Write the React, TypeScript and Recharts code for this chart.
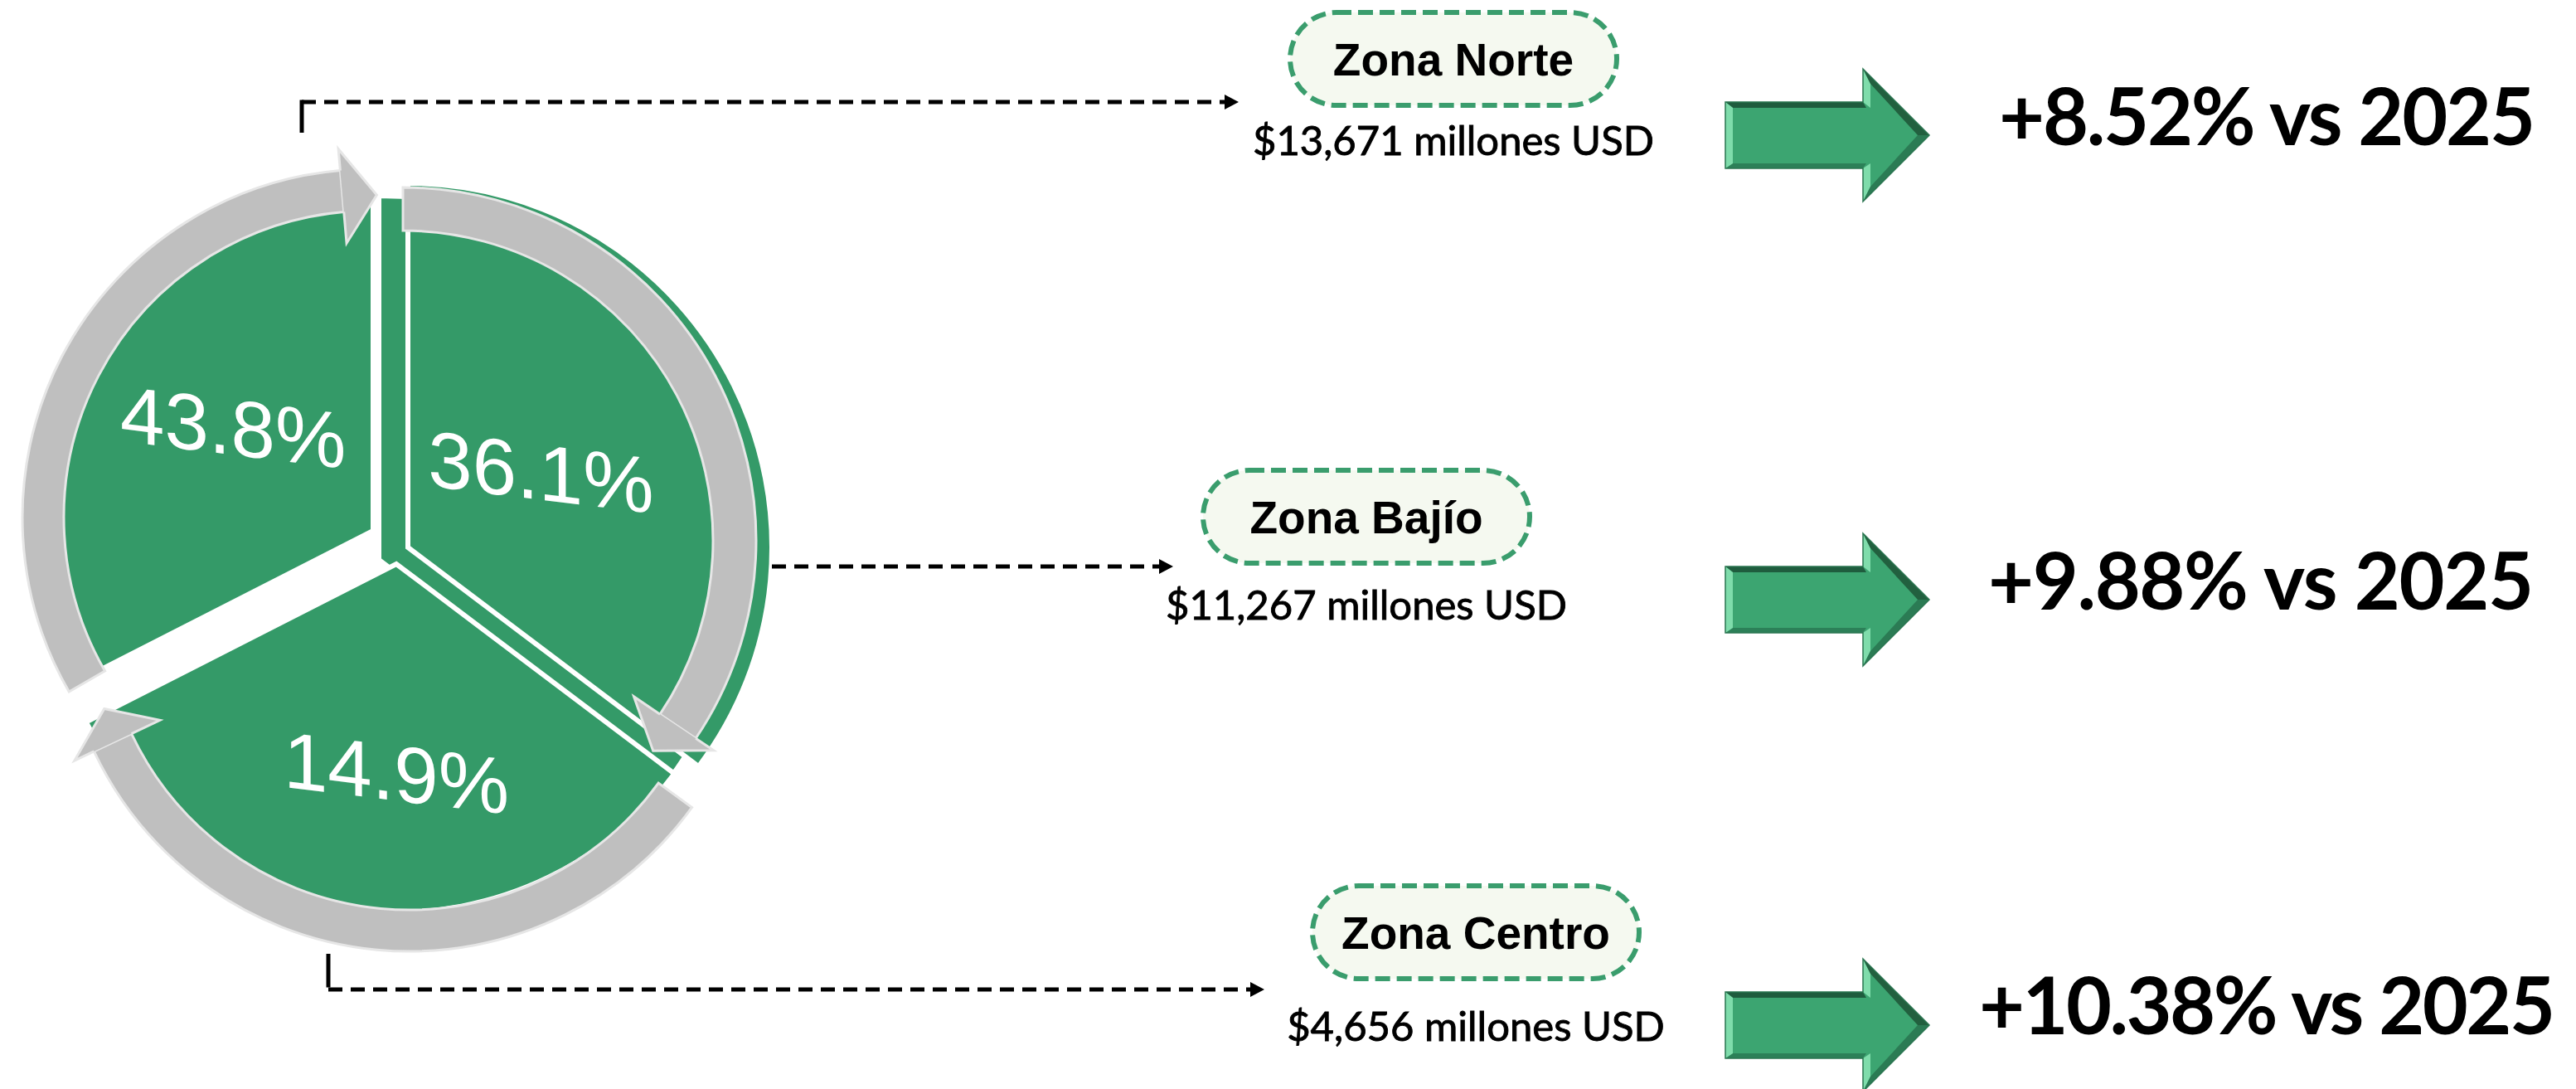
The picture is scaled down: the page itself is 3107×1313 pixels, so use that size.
import React from "react";
import { PieChart, Pie, Cell } from "recharts";

const zones = ["Zona Norte", "Zona Bajío", "Zona Centro"];
const shares = [43.8, 36.1, 14.9];
const amounts = ["$13,671", "$11,267", "$4,656"];
const growth = ["+8.52%", "+9.88%", "+10.38%"];
const baseYear = "2025";
// span of each segment in the cycle graphic, in degrees (drawn near-equal, not to share)
const cycleArcs = [117, 127, 116];
// clockwise from 12 o'clock: Bajío, Centro, Norte
const cycleOrder = [1, 2, 0];

const W = 3107;
const H = 1313;
const GREEN = "#349a68";
const GRAY = "#bfbfbf";
const GRAY_EDGE = "#e6e6e6";
const RADIAN = Math.PI / 180;

// exploded segments
const sliceGeo = [
  { cx: 450, cy: 640, r: 415, labelR: 0.506, labelShift: -5 },
  { cx: 492, cy: 660, r: 439, labelR: 0.42, labelShift: 3 },
  { cx: 478, cy: 680, r: 420, labelR: 0.6, labelShift: 5 },
];
// gray cycle arrows around each segment
const arrowGeo = [
  { cx: 447, cy: 624, ri: 370, ro: 420, tailPad: 3, headPad: 5 },
  { cx: 486, cy: 652, ri: 374, ro: 426, tailPad: 0, headPad: 3 },
  { cx: 494, cy: 726, ri: 371, ro: 421, tailPad: 1, headPad: -1.7 },
];
// right hand column
const rowGeo = [
  { pillCx: 1753, pillTop: 15, amountBase: 187, arrowY: 163, growthX: 2411, growthW: 647, growthBase: 175 },
  { pillCx: 1648, pillTop: 567, amountBase: 747, arrowY: 723, growthX: 2398, growthW: 658, growthBase: 735 },
  { pillCx: 1780, pillTop: 1068, amountBase: 1255, arrowY: 1236, growthX: 2387, growthW: 695, growthBase: 1247 },
];
const connectors = [
  [[364, 160], [364, 123], [1494, 123]],
  [[931, 683], [1415, 683]],
  [[396, 1150], [396, 1193], [1525, 1193]],
];

const rows = zones.map((zone, i) => ({ zone, share: shares[i] }));

const angles: { start: number; end: number }[] = [];
let acc = 90;
cycleOrder.forEach((i) => {
  angles[i] = { start: acc, end: acc - cycleArcs[i] };
  acc -= cycleArcs[i];
});

const polar = (cx: number, cy: number, r: number, a: number) => [
  cx + r * Math.cos(-a * RADIAN),
  cy + r * Math.sin(-a * RADIAN),
];

const sliceLabel = (i: number) => () => {
  const g = sliceGeo[i];
  const mid = (angles[i].start + angles[i].end) / 2 + g.labelShift;
  const [x, y] = polar(g.cx, g.cy, g.r * g.labelR, mid);
  return (
    <text
      x={x}
      y={y}
      fill="#fff"
      fontSize={96}
      fontFamily="'Liberation Sans', Arial, sans-serif"
      textAnchor="middle"
      dominantBaseline="central"
      transform={`translate(${x} ${y}) skewY(7) translate(${-x} ${-y})`}
    >
      {shares[i].toFixed(1)}%
    </text>
  );
};

const arrowHead = (i: number) => () => {
  const g = arrowGeo[i];
  const start = angles[i].start + g.tailPad;
  const end = angles[i].end + g.headPad;
  const dir = end < start ? -1 : 1;
  const rm = (g.ri + g.ro) / 2;
  const tipA = end + (dir * (42 / rm)) / RADIAN;
  const po = polar(g.cx, g.cy, g.ro, end);
  const b1 = polar(g.cx, g.cy, g.ro + 26, end);
  const tip = polar(g.cx, g.cy, rm - 6, tipA);
  const b2 = polar(g.cx, g.cy, g.ri - 38, end);
  const pi = polar(g.cx, g.cy, g.ri, end);
  return (
    <g>
      <path d={`M${b1[0]},${b1[1]} L${tip[0]},${tip[1]} L${b2[0]},${b2[1]} Z`} fill={GRAY} />
      <path
        d={`M${po[0]},${po[1]} L${b1[0]},${b1[1]} L${tip[0]},${tip[1]} L${b2[0]},${b2[1]} L${pi[0]},${pi[1]}`}
        fill="none"
        stroke={GRAY_EDGE}
        strokeWidth={3}
      />
    </g>
  );
};

function SlicePie({ i, depth = false }: { i: number; depth?: boolean }) {
  const g = sliceGeo[i];
  return (
    <Pie
      data={[rows[i]]}
      dataKey="share"
      cx={depth ? g.cx - 35 : g.cx}
      cy={depth ? g.cy + 15 : g.cy}
      outerRadius={g.r}
      startAngle={angles[i].start}
      endAngle={angles[i].end}
      stroke="#fff"
      strokeWidth={6}
      isAnimationActive={false}
      label={depth ? false : sliceLabel(i)}
      labelLine={false}
    >
      <Cell fill={GREEN} />
    </Pie>
  );
}

function ArrowPie({ i }: { i: number }) {
  const g = arrowGeo[i];
  return (
    <Pie
      data={[rows[i]]}
      dataKey="share"
      cx={g.cx}
      cy={g.cy}
      innerRadius={g.ri}
      outerRadius={g.ro}
      startAngle={angles[i].start + g.tailPad}
      endAngle={angles[i].end + g.headPad}
      stroke={GRAY_EDGE}
      strokeWidth={3}
      isAnimationActive={false}
      label={arrowHead(i)}
      labelLine={false}
    >
      <Cell fill={GRAY} />
    </Pie>
  );
}

function BlockArrow({ y }: { y: number }) {
  const x0 = 2081, x1 = 2247, x2 = 2327, sh = 40, hh = 80;
  const pts = `${x0},${y - sh} ${x1},${y - sh} ${x1},${y - hh} ${x2},${y} ${x1},${y + hh} ${x1},${y + sh} ${x0},${y + sh}`;
  return (
    <g>
      <polygon points={pts} fill="#3ca571" />
      <polygon points={`${x0},${y - sh} ${x1},${y - sh} ${x1 + 4},${y - sh + 7} ${x0 + 9},${y - sh + 7}`} fill="#1f5c3e" />
      <polygon points={`${x0},${y + sh} ${x1},${y + sh} ${x1 + 4},${y + sh - 6} ${x0 + 9},${y + sh - 6}`} fill="#2c8058" />
      <polygon points={`${x0},${y - sh} ${x0 + 9},${y - sh + 7} ${x0 + 9},${y + sh - 6} ${x0},${y + sh}`} fill="#7fdcab" />
      <polygon points={`${x1},${y - hh} ${x1 + 9},${y - hh + 18} ${x1 + 9},${y - sh + 7} ${x1},${y - sh}`} fill="#7fdcab" />
      <polygon points={`${x1},${y + hh} ${x1 + 9},${y + hh - 18} ${x1 + 9},${y + sh - 6} ${x1},${y + sh}`} fill="#7fdcab" />
      <polygon points={`${x1},${y - hh} ${x2},${y} ${x2 - 14},${y} ${x1 + 9},${y - hh + 18}`} fill="#22603f" />
      <polygon points={`${x1},${y + hh} ${x2},${y} ${x2 - 14},${y} ${x1 + 9},${y + hh - 18}`} fill="#2b7b54" />
      <polygon points={pts} fill="none" stroke="#2a7550" strokeWidth={1.5} />
    </g>
  );
}

function Annotations() {
  const pillW = 394;
  const pillH = 112;
  return (
    <svg width={W} height={H} style={{ position: "absolute", left: 0, top: 0 }}>
      {connectors.map((pts, k) => {
        const last = pts[pts.length - 1];
        const prev = pts[pts.length - 2];
        const hasTick = pts.length === 3;
        return (
          <g key={k}>
            {hasTick && (
              <line x1={pts[0][0]} y1={pts[0][1]} x2={pts[1][0]} y2={pts[1][1] - 2.5} stroke="#000" strokeWidth={5} />
            )}
            <line
              x1={prev[0]}
              y1={prev[1]}
              x2={last[0] - 15}
              y2={last[1]}
              stroke="#000"
              strokeWidth={5}
              strokeDasharray="17 10"
            />
            <polygon
              points={`${last[0] - 17},${last[1] - 9} ${last[0]},${last[1]} ${last[0] - 17},${last[1] + 9}`}
              fill="#000"
            />
          </g>
        );
      })}
      {zones.map((zone, i) => {
        const g = rowGeo[i];
        return (
          <g key={zone}>
            <rect
              x={g.pillCx - pillW / 2}
              y={g.pillTop}
              width={pillW}
              height={pillH}
              rx={pillH / 2}
              fill="#f5f9f0"
              stroke="#3a9d6d"
              strokeWidth={6}
              strokeDasharray="18 8"
            />
            <text
              x={g.pillCx}
              y={g.pillTop + pillH / 2 + 20}
              textAnchor="middle"
              fontFamily="'Liberation Sans', Arial, sans-serif"
              fontWeight={700}
              fontSize={55}
              fill="#000"
            >
              {zone}
            </text>
            <text
              x={g.pillCx}
              y={g.amountBase}
              textAnchor="middle"
              fontFamily="Lato, 'Open Sans', sans-serif"
              fontSize={49}
              fill="#000"
              stroke="#000"
              strokeWidth={0.9}
            >
              {amounts[i]} millones USD
            </text>
            <BlockArrow y={g.arrowY} />
            <text
              x={g.growthX}
              y={g.growthBase}
              textLength={g.growthW}
              lengthAdjust="spacing"
              fontFamily="Lato, 'Open Sans', sans-serif"
              fontWeight={700}
              fontSize={95}
              fill="#000"
            >
              {growth[i]} vs {baseYear}
            </text>
          </g>
        );
      })}
    </svg>
  );
}

export default function App() {
  return (
    <div style={{ position: "absolute", left: 0, top: 0, width: W, height: H, background: "#fff" }}>
      <PieChart width={W} height={H} margin={{ top: 0, right: 0, bottom: 0, left: 0 }}>
        <SlicePie i={1} depth />
        <SlicePie i={2} />
        <SlicePie i={0} />
        <SlicePie i={1} />
        <ArrowPie i={0} />
        <ArrowPie i={1} />
        <ArrowPie i={2} />
      </PieChart>
      <Annotations />
    </div>
  );
}
